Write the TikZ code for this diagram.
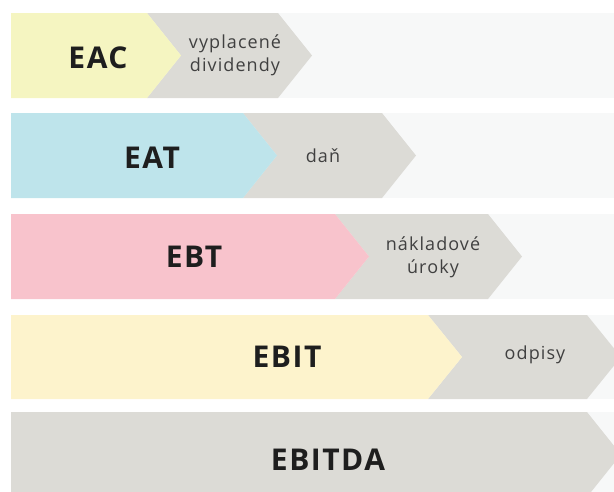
\documentclass[tikz,border=0pt]{standalone}
\usepackage{fontspec}
\setmainfont{Open Sans}
\newfontfamily\bigfont[LetterSpace=5]{Open Sans Bold}
\newfontfamily\smallfont[LetterSpace=6]{Open Sans}
\usepackage{tikz}
\usetikzlibrary{positioning}

\definecolor{barbg}{HTML}{F7F8F8}
\definecolor{chgray}{HTML}{DCDBD6}
\definecolor{eacyel}{HTML}{F5F5C1}
\definecolor{eatblue}{HTML}{BEE4EB}
\definecolor{ebtpink}{HTML}{F8C3CC}
\definecolor{ebityel}{HTML}{FDF3CC}
\definecolor{txtdark}{HTML}{1E1E1E}
\definecolor{txtsoft}{HTML}{404040}

\begin{document}
\begin{tikzpicture}[x=1pt,y=-1pt]
\tikzset{big/.style={font=\bigfont\fontsize{30}{32}\selectfont, text=txtdark, inner sep=0pt}}
\tikzset{small/.style={font=\smallfont\fontsize{18}{23}\selectfont, text=txtsoft, align=center, inner sep=0pt}}
\useasboundingbox (0,0) rectangle (614,491);
\begin{scope}
\clip (0,0) rectangle (614,491);
% light bars
\foreach \t/\b in {13/98, 113/198, 214/299, 315/399, 412/497}
  \fill[barbg] (11,\t) rectangle (630,\b);
% gray chevrons: top, bottom, start, end
\foreach \t/\b/\s/\e in {13/98/147/278, 113/198/243/382, 214/299/335/488, 315/399/428/587}
  \fill[chgray] (\s,\t) -- (\e,\t) -- (\e+34,{(\t+\b)/2}) -- (\e,\b) -- (\s,\b) -- (\s+34,{(\t+\b)/2}) -- cycle;
\fill[chgray] (11,412) -- (587,412) -- (621,454.5) -- (587,497) -- (11,497) -- cycle;
% coloured parts
\fill[eacyel] (11,13) -- (147,13) -- (181,55.5) -- (147,98) -- (11,98) -- cycle;
\fill[eatblue] (11,113) -- (243,113) -- (277,155.5) -- (243,198) -- (11,198) -- cycle;
\fill[ebtpink] (11,214) -- (335,214) -- (369,256.5) -- (335,299) -- (11,299) -- cycle;
\fill[ebityel] (11,315) -- (428,315) -- (462,357) -- (428,399) -- (11,399) -- cycle;
\end{scope}
% labels
\node[big] (eac) at (98,57.5) {EAC};
\node[big] (eat) at (152,157.5) {EAT};
\node[big] (ebt) at (194,256.5) {EBT};
\node[big] (ebit) at (287,357) {EBIT};
\node[big] (ebitda) at (328,460) {EBITDA};
\node[small] (dividendy) at (235,55) {vyplacené\\dividendy};
\node[small] (dan) at (323,156) {daň};
\node[small] (uroky) at (433,257) {nákladové\\úroky};
\node[small] (odpisy) at (535,355) {odpisy};
\end{tikzpicture}
\end{document}
